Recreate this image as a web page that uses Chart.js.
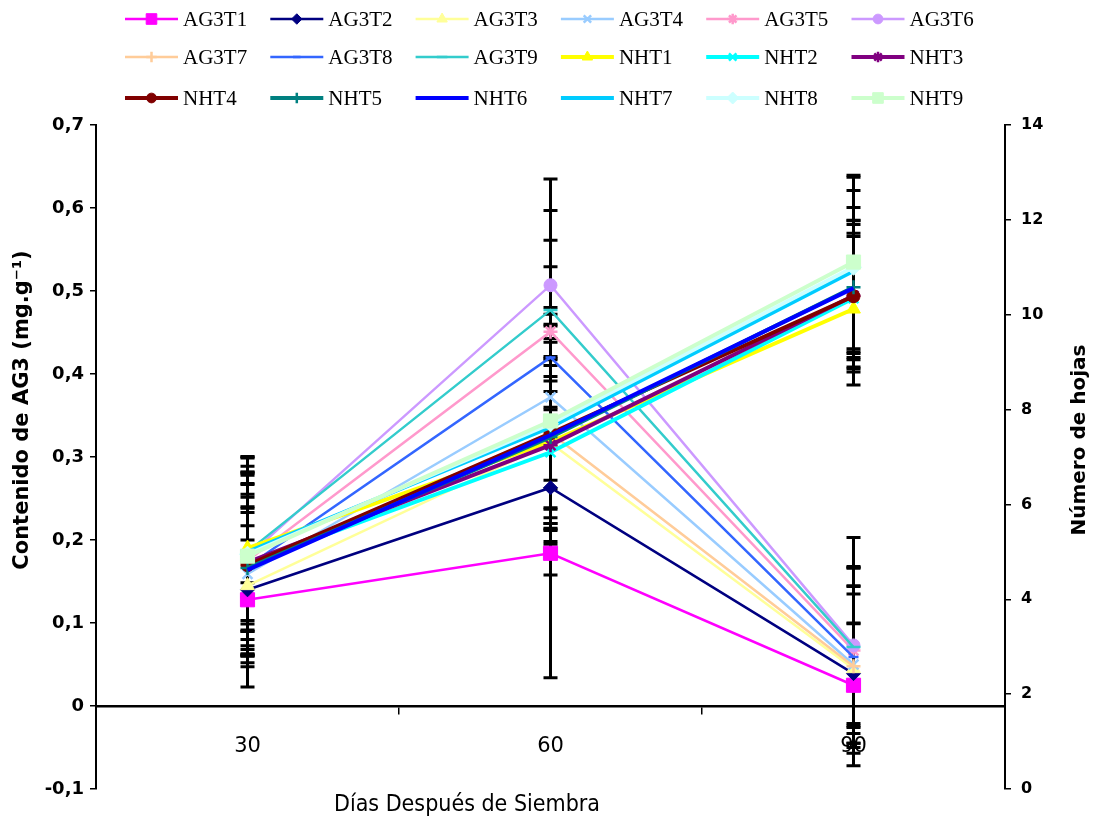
<!DOCTYPE html>
<html>
<head>
<meta charset="utf-8">
<script src="https://cdn.jsdelivr.net/npm/chart.js"></script>
<style>
  body { margin: 0; background: #fff; }
  #wrap { width: 1094px; height: 822px; position: relative; }
</style>
</head>
<body>
<div id="wrap"><canvas id="chart"></canvas></div>
<script>
// days after sowing
const days = ['30', '60', '90'];

// GA3 content (mg/g), left axis
const ag3t1 = [0.128, 0.184, 0.025];
const ag3t2 = [0.140, 0.263, 0.039];
const ag3t3 = [0.145, 0.317, 0.045];
const ag3t4 = [0.159, 0.372, 0.050];
const ag3t5 = [0.175, 0.451, 0.067];
const ag3t6 = [0.180, 0.507, 0.073];
const ag3t7 = [0.170, 0.329, 0.048];
const ag3t8 = [0.168, 0.420, 0.059];
const ag3t9 = [0.186, 0.477, 0.071];

// number of leaves, right axis
const nht1 = [5.08, 7.32, 10.12];
const nht2 = [4.75, 7.10, 10.35];
const nht3 = [4.78, 7.25, 10.40];
const nht4 = [4.72, 7.50, 10.39];
const nht5 = [4.66, 7.42, 10.58];
const nht6 = [4.62, 7.46, 10.56];
const nht7 = [5.00, 7.63, 10.92];
const nht8 = [4.95, 7.70, 11.00];
const nht9 = [4.91, 7.76, 11.11];

// error bar half lengths
const errAg3t1 = [0.105, 0.150, 0.075];
const errAg3t2 = [0.060, 0.050, 0.060];
const errAg3t3 = [0.042, 0.080, 0.090];
const errAg3t4 = [0.096, 0.100, 0.095];
const errAg3t5 = [0.114, 0.110, 0.100];
const errAg3t6 = [0.120, 0.128, 0.130];
const errAg3t7 = [0.108, 0.090, 0.120];
const errAg3t8 = [0.100, 0.060, 0.085];
const errAg3t9 = [0.096, 0.120, 0.095];
const errNht1 = [1.6, 2.1, 1.6];
const errNht2 = [1.4, 1.5, 1.3];
const errNht3 = [2.2, 1.8, 1.5];
const errNht4 = [1.7, 2.0, 1.6];
const errNht5 = [2.0, 1.7, 1.4];
const errNht6 = [1.3, 2.3, 1.7];
const errNht7 = [0.95, 1.3, 1.7];
const errNht8 = [0.6, 2.1, 1.9];
const errNht9 = [2.1, 3.25, 1.83];

const SANS = '"DejaVu Sans", Verdana, sans-serif';
const NARROW = '"DejaVu Sans Condensed", "Liberation Sans Narrow", "DejaVu Sans", sans-serif';

function series(label, data, errors, axis, color, marker, radius) {
    const thick = axis === 'y2';
    return {
        label, data, errors, yAxisID: axis,
        borderColor: color, backgroundColor: color,
        borderWidth: thick ? 4 : 2.5,
        pointStyle: marker || 'circle',
        pointRadius: marker ? radius : 0,
        pointHoverRadius: marker ? radius : 0,
        pointBackgroundColor: color, pointBorderColor: color,
        pointBorderWidth: (marker === 'crossRot' || marker === 'star' || marker === 'cross' || marker === 'line') ? 2.5 : 1,
        tension: 0, fill: false,
    };
}

const datasets = [
    series('AG3T1', ag3t1, errAg3t1, 'y', '#FF00FF', 'rect', 10),
    series('AG3T2', ag3t2, errAg3t2, 'y', '#000080', 'rectRot', 7),
    series('AG3T3', ag3t3, errAg3t3, 'y', '#FFFF99', 'triangle', 8),
    series('AG3T4', ag3t4, errAg3t4, 'y', '#99CCFF', 'crossRot', 7),
    series('AG3T5', ag3t5, errAg3t5, 'y', '#FF99CC', 'star', 7),
    series('AG3T6', ag3t6, errAg3t6, 'y', '#CC99FF', 'circle', 6.5),
    series('AG3T7', ag3t7, errAg3t7, 'y', '#FFCC99', 'cross', 7),
    series('AG3T8', ag3t8, errAg3t8, 'y', '#3366FF', 'line', 5),
    series('AG3T9', ag3t9, errAg3t9, 'y', '#33CCCC', 'line', 7),
    series('NHT1', nht1, errNht1, 'y2', '#FFFF00', 'triangle', 8),
    series('NHT2', nht2, errNht2, 'y2', '#00FFFF', 'crossRot', 7),
    series('NHT3', nht3, errNht3, 'y2', '#800080', 'star', 7),
    series('NHT4', nht4, errNht4, 'y2', '#800000', 'circle', 6.5),
    series('NHT5', nht5, errNht5, 'y2', '#008080', 'cross', 7),
    series('NHT6', nht6, errNht6, 'y2', '#0000FF', null, 0),
    series('NHT7', nht7, errNht7, 'y2', '#00CCFF', null, 0),
    series('NHT8', nht8, errNht8, 'y2', '#CCFFFF', 'rectRot', 8),
    series('NHT9', nht9, errNht9, 'y2', '#CCFFCC', 'rect', 10),
];
// later series on top, as in the original
datasets.forEach((d, i) => { d.order = datasets.length - 1 - i; });

const errorBars = {
    id: 'errorBars',
    beforeDatasetsDraw(chart) {
        const ctx = chart.ctx;
        ctx.save();
        ctx.strokeStyle = '#000';
        ctx.lineWidth = 3;
        chart.data.datasets.forEach((ds, di) => {
            const meta = chart.getDatasetMeta(di);
            const scale = chart.scales[ds.yAxisID];
            meta.data.forEach((pt, i) => {
                const v = ds.data[i], e = ds.errors[i];
                const y1 = scale.getPixelForValue(v + e);
                const y2 = scale.getPixelForValue(v - e);
                ctx.beginPath();
                ctx.moveTo(pt.x, y1); ctx.lineTo(pt.x, y2);
                ctx.moveTo(pt.x - 7, y1); ctx.lineTo(pt.x + 7, y1);
                ctx.moveTo(pt.x - 7, y2); ctx.lineTo(pt.x + 7, y2);
                ctx.stroke();
            });
        });
        ctx.restore();
    }
};

const gridLegend = {
    id: 'gridLegend',
    afterDraw(chart) {
        const ctx = chart.ctx;
        const rows = [19, 57, 98];
        ctx.save();
        ctx.font = '21px "Liberation Serif", "Times New Roman", serif';
        ctx.textBaseline = 'middle';
        chart.data.datasets.forEach((ds, i) => {
            const x = 125 + (i % 6) * 145.3;
            const y = rows[Math.floor(i / 6)];
            ctx.strokeStyle = ds.borderColor;
            ctx.lineWidth = ds.borderWidth;
            ctx.beginPath(); ctx.moveTo(x, y); ctx.lineTo(x + 53, y); ctx.stroke();
            if (ds.pointRadius > 0) {
                ctx.fillStyle = ds.borderColor;
                ctx.lineWidth = ds.pointBorderWidth;
                Chart.helpers.drawPoint(ctx, {
                    pointStyle: ds.pointStyle, radius: ds.pointRadius * 0.75,
                    borderWidth: ds.pointBorderWidth, rotation: 0
                }, x + 26.5, y);
            }
            ctx.fillStyle = '#000';
            ctx.fillText(ds.label, x + 58, y + 1);
        });
        ctx.restore();
    }
};

const axisTitles = {
    id: 'axisTitles',
    afterDraw(chart) {
        const ctx = chart.ctx;
        ctx.save();
        ctx.fillStyle = '#000';
        ctx.textAlign = 'center';
        ctx.textBaseline = 'middle';
        ctx.font = '23px ' + NARROW;
        ctx.fillText('Días Después de Siembra', 467, 805);
        ctx.font = 'bold 21px ' + SANS;
        ctx.translate(23, 410);
        ctx.rotate(-Math.PI / 2);
        ctx.fillText('Contenido de AG3 (mg.g⁻¹)', 0, 0);
        ctx.restore();
        ctx.save();
        ctx.fillStyle = '#000';
        ctx.textAlign = 'center';
        ctx.textBaseline = 'middle';
        ctx.font = 'bold 20px ' + SANS;
        ctx.translate(1080, 440);
        ctx.rotate(-Math.PI / 2);
        ctx.fillText('Número de hojas', 0, 0);
        ctx.restore();
    }
};

new Chart(document.getElementById('chart'), {
    type: 'line',
    data: { labels: days, datasets },
    plugins: [errorBars, gridLegend, axisTitles],
    options: {
        responsive: true,
        maintainAspectRatio: false,
        animation: false,
        layout: { padding: { top: 125, bottom: 33, left: 0, right: 0 } },
        plugins: { legend: { display: false }, tooltip: { enabled: false } },
        scales: {
            x: {
                type: 'category',
                position: { y: 0 },
                offset: true,
                grid: { offset: true, drawOnChartArea: false, tickLength: 7, color: '#000', lineWidth: 1.5 },
                border: { display: true, color: '#000', width: 2.5 },
                ticks: { color: '#000', padding: 21, font: { family: 'DejaVu Sans', size: 21 } },
            },
            y: {
                position: 'left',
                min: -0.1, max: 0.7,
                afterFit(scale) { scale.width = 96; },
                grid: { drawOnChartArea: false, tickLength: 6, color: '#000', lineWidth: 1.5 },
                border: { display: true, color: '#000', width: 2 },
                ticks: {
                    stepSize: 0.1, color: '#000', padding: 6,
                    font: { family: SANS, size: 18, weight: 'bold' },
                    callback: v => Math.abs(v) < 1e-9 ? '0' : v.toFixed(1).replace('.', ','),
                },
            },
            y2: {
                position: 'right',
                min: 0, max: 14,
                afterFit(scale) { scale.width = 89; },
                grid: { drawOnChartArea: false, tickLength: 6, color: '#000', lineWidth: 1.5 },
                border: { display: true, color: '#000', width: 2 },
                ticks: { stepSize: 2, color: '#000', padding: 10, font: { family: SANS, size: 16, weight: 'bold' } },
            },
        },
    },
});
</script>
</body>
</html>
